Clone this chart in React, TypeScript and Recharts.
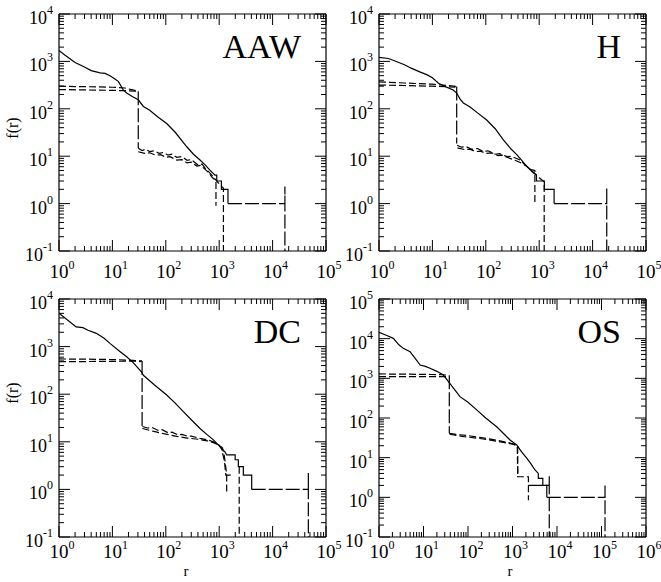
import { LineChart, Line, XAxis, YAxis } from "recharts"

type Pt = [number, number | null]

const SERIF = "'Liberation Serif', 'Times New Roman', Times, serif"

// axis exponents (log10 of the decade ticks)
const X_EXP_SHORT = [0, 1, 2, 3, 4, 5]
const X_EXP_LONG = [0, 1, 2, 3, 4, 5, 6]
const Y_EXP_SHORT = [-1, 0, 1, 2, 3, 4]
const Y_EXP_LONG = [-1, 0, 1, 2, 3, 4, 5]

// ---- AAW ----
const AAW_SOLID: Pt[] = [
  [1, 1700], [1.3, 1350], [2, 950], [3, 760], [4, 640], [5.9, 575], [7.3, 560], [9, 500], [11, 430],
  [13, 375], [16, 250], [18.5, 215], [24, 180], [30.5, 155], [38, 112], [50, 93], [70, 68], [104, 49],
  [150, 32], [245, 16], [330, 11], [437, 8.3], [550, 6.5], [670, 5.1], [835, 4], [900, 4], [900, 3],
  [1100, 3], [1100, 2], [1460, 2], [1460, 1],
]
const AAW_DASH_A: Pt[] = [
  [1, 300], [2, 295], [5, 290], [10, 285], [17, 275], [24, 250], [28, 240], [29, null], [30.5, 14.7], [36, 13.2],
  [42, 14], [50, 12.5], [60, 13], [75, 11.5], [90, 12], [110, 10.5], [130, 11], [160, 9.5], [200, 9.8],
  [250, 8.2], [300, 8.5], [400, 6.5], [480, 6.8], [550, 5.5], [700, 4.2], [800, 3.5], [1000, 2.6],
  [1200, 2.1], [1200, 0.05],
]
const AAW_DASH_B: Pt[] = [
  [1, 255], [3, 250], [10, 245], [20, 240], [30, 235], [30.2, null], [30.5, 12.4], [40, 11.5], [50, 11.8], [65, 10.5],
  [80, 10.8], [100, 9.5], [120, 9.8], [160, 8.3], [200, 8.5], [250, 7.2], [300, 7.5], [380, 6.2],
  [450, 6.4], [600, 4.8], [750, 3.5], [870, 3], [870, 0.9],
]
const AAW_LONG: Pt[] = [
  [30.5, 235], [30.5, 14.7], [31, null], [1460, 1], [17000, 1], [17000, 2.3], [17000, 0.05],
]

// ---- H ----
const H_SOLID: Pt[] = [
  [1, 1220], [1.5, 1150], [2, 1020], [3, 850], [4, 720], [5.8, 600], [8, 520], [10, 450], [13, 345],
  [18, 290], [24.5, 250], [28.5, 215], [33, 160], [38, 133], [50, 110], [70, 82], [104, 58], [150, 38],
  [213, 22], [300, 14], [380, 10.8], [480, 8], [590, 6], [700, 5], [780, 4.4], [890, 4], [890, 3],
  [1250, 3], [1250, 2], [1900, 2], [1900, 1],
]
const H_DASH_A: Pt[] = [
  [1, 370], [3, 350], [10, 330], [20, 310], [28.5, 295], [28.7, null], [29, 17], [35, 15.5], [42, 16], [55, 14],
  [70, 14.5], [90, 12.5], [110, 13], [150, 11], [180, 11.3], [250, 9.8], [300, 10], [437, 8.3],
  [550, 6.5], [700, 5.2], [830, 5], [830, 0.93],
]
const H_DASH_B: Pt[] = [
  [1, 316], [3, 310], [10, 300], [20, 290], [27, 285], [28, null], [29.5, 15], [40, 13.8], [50, 14], [65, 12.5],
  [80, 12.8], [100, 11.5], [130, 11.7], [170, 10.3], [200, 10.5], [300, 8.8], [450, 7.3], [600, 6],
  [800, 4.5], [1000, 3.5], [1240, 2.9], [1240, 0.05],
]
const H_LONG: Pt[] = [
  [28.5, 295], [28.5, 18.6], [29, null], [1900, 1], [18400, 1], [18400, 2.1], [18400, 0.05],
]

// ---- DC ----
const DC_SOLID: Pt[] = [
  [1, 5000], [1.5, 3500], [2.1, 2600], [2.8, 2500], [3.5, 2200], [5, 1900], [7, 1500], [9, 1170],
  [14, 780], [18.5, 610], [25, 450], [35, 295], [38, 250], [60, 160], [104, 96], [150, 65], [213, 43],
  [300, 29], [437, 19], [600, 14], [780, 11], [1110, 7.3], [1300, 6], [1380, 5.3], [1990, 5.3],
  [1990, 4.2], [2280, 4.2], [2280, 3], [2830, 3], [2830, 2], [4060, 2], [4060, 1],
]
const DC_DASH_A: Pt[] = [
  [1, 550], [3, 545], [10, 535], [20, 520], [30, 505], [36, 500], [36.2, null], [36.5, 21], [45, 19.5], [55, 20],
  [70, 17.5], [85, 18], [110, 15.5], [130, 16], [170, 14], [200, 14.3], [260, 13], [300, 13.2],
  [437, 11.8], [600, 11], [780, 10], [1000, 8.5], [1110, 7], [1250, 4], [1330, 2], [1650, 2],
  [1660, null], [2370, 3], [2370, 0.05],
]
const DC_DASH_B: Pt[] = [
  [1, 480], [3, 485], [10, 490], [20, 495], [30, 495], [35, 480], [36, null], [36.5, 19], [60, 16.5], [100, 14.5],
  [160, 13], [250, 12], [400, 11.3], [600, 10.5], [800, 9.5], [1000, 8.5], [1150, 7.5], [1250, 5],
  [1350, 2.5], [1380, 2], [1380, 0.85],
]
const DC_LONG: Pt[] = [
  [36, 500], [36, 21], [36.5, null], [4060, 1], [46700, 1], [46700, 2.2], [46700, 0.05],
]

// ---- OS ----
const OS_SOLID: Pt[] = [
  [1, 14500], [1.5, 12000], [2.1, 10200], [2.8, 7000], [3.5, 5700], [5, 4700], [6.5, 3200],
  [8.4, 2170], [11, 2000], [14, 1800], [20, 1500], [28, 1210], [39, 750], [50, 520], [66, 345],
  [100, 250], [157, 160], [250, 100], [441, 60], [879, 28], [1242, 21], [1600, 14], [2090, 9.7],
  [2600, 7], [3200, 4.9], [3800, 4], [3800, 3], [4800, 3], [4800, 2], [5900, 2], [5900, 1],
]
const OS_DASH_A: Pt[] = [
  [1, 1290], [5, 1270], [15, 1250], [26, 1230], [37, 1200], [37.5, null], [38, 41], [60, 38], [100, 36], [200, 32],
  [400, 28], [800, 24], [1240, 21], [1310, 20], [1310, 3.3], [2280, 3.3], [2280, 0.85],
]
const OS_DASH_B: Pt[] = [
  [1, 1100], [5, 1100], [15, 1100], [30, 1100], [37, 1100], [37.5, null], [38.5, 39], [80, 34], [200, 30],
  [500, 25.5], [1000, 22], [1280, 20], [1300, 6], [1320, 3.4],
]
const OS_LONG: Pt[] = [
  [38, 1200], [38, 41], [39, null], [2280, 2], [6700, 2], [6700, 3.4], [6700, 0.05], [6800, null],
  [5900, 1], [120000, 1], [120000, 2], [120000, 0.05],
]

const DASH = "7 3"
const LONG_DASH = "14 3"

type Series = { pts: Pt[]; dash?: string }

type PanelDef = {
  title: string
  plotX: number
  plotY: number
  plotH: number
  labelGap: number
  xExp: number[]
  yExp: number[]
  series: Series[]
}

const PLOT_W = 267

const PANELS: PanelDef[] = [
  {
    title: "AAW", plotX: 59, plotY: 14, plotH: 237, labelGap: 27, xExp: X_EXP_SHORT, yExp: Y_EXP_SHORT,
    series: [{ pts: AAW_SOLID }, { pts: AAW_DASH_A, dash: DASH }, { pts: AAW_DASH_B, dash: DASH }, { pts: AAW_LONG, dash: LONG_DASH }],
  },
  {
    title: "H", plotX: 379, plotY: 14, plotH: 237, labelGap: 27, xExp: X_EXP_SHORT, yExp: Y_EXP_SHORT,
    series: [{ pts: H_SOLID }, { pts: H_DASH_A, dash: DASH }, { pts: H_DASH_B, dash: DASH }, { pts: H_LONG, dash: LONG_DASH }],
  },
  {
    title: "DC", plotX: 59, plotY: 299, plotH: 238, labelGap: 21, xExp: X_EXP_SHORT, yExp: Y_EXP_SHORT,
    series: [{ pts: DC_SOLID }, { pts: DC_DASH_A, dash: DASH }, { pts: DC_DASH_B, dash: DASH }, { pts: DC_LONG, dash: LONG_DASH }],
  },
  {
    title: "OS", plotX: 379, plotY: 299, plotH: 238, labelGap: 21, xExp: X_EXP_LONG, yExp: Y_EXP_LONG,
    series: [{ pts: OS_SOLID }, { pts: OS_DASH_A, dash: DASH }, { pts: OS_DASH_B, dash: DASH }, { pts: OS_LONG, dash: LONG_DASH }],
  },
]

function decadeTicks(exps: number[]) {
  const out: number[] = []
  exps.forEach((e, i) => {
    out.push(Math.pow(10, e))
    if (i < exps.length - 1) for (let k = 2; k <= 9; k++) out.push(k * Math.pow(10, e))
  })
  return out
}

function expOf(v: number) {
  return Math.round(Math.log10(v))
}

function isMajor(v: number) {
  const l = Math.log10(v)
  return Math.abs(l - Math.round(l)) < 1e-6
}

const MAJOR = 11
const MINOR = 5

function BottomTick(props: any) {
  const { x, y, payload, gap } = props
  const major = isMajor(payload.value)
  return (
    <g>
      <line x1={x} y1={y} x2={x} y2={y - (major ? MAJOR : MINOR)} stroke="#000" strokeWidth={1} />
      {major && (
        <text x={x - 9.5} y={y + gap} style={{ fontFamily: SERIF }} fontSize={19} fill="#000">
          10<tspan dy={-9} fontSize={12}>{expOf(payload.value)}</tspan>
        </text>
      )}
    </g>
  )
}

function TopTick(props: any) {
  const { x, y, payload } = props
  const major = isMajor(payload.value)
  return <line x1={x} y1={y} x2={x} y2={y + (major ? MAJOR : MINOR)} stroke="#000" strokeWidth={1} />
}

function LeftTick(props: any) {
  const { x, y, payload } = props
  const major = isMajor(payload.value)
  return (
    <g>
      <line x1={x} y1={y} x2={x + (major ? MAJOR : MINOR)} y2={y} stroke="#000" strokeWidth={1} />
      {major && (
        <text x={x - 6} y={y + 10} textAnchor="end" style={{ fontFamily: SERIF }} fontSize={18} fill="#000">
          10<tspan dy={-10} fontSize={12}>{expOf(payload.value)}</tspan>
        </text>
      )}
    </g>
  )
}

function RightTick(props: any) {
  const { x, y, payload } = props
  const major = isMajor(payload.value)
  return <line x1={x} y1={y} x2={x - (major ? MAJOR : MINOR)} y2={y} stroke="#000" strokeWidth={1} />
}

function Panel({ p }: { p: PanelDef }) {
  const chartLeft = p.plotX - 59
  const chartTop = p.plotY - 14
  const width = 345
  const height = p.plotH + 14 + 45
  const xDomain = [Math.pow(10, p.xExp[0]), Math.pow(10, p.xExp[p.xExp.length - 1])]
  const yDomain = [Math.pow(10, p.yExp[0]), Math.pow(10, p.yExp[p.yExp.length - 1])]
  const xTicks = decadeTicks(p.xExp)
  const yTicks = decadeTicks(p.yExp)
  const axisLine = { stroke: "#000", strokeWidth: 1.2 }
  return (
    <div style={{ position: "absolute", left: chartLeft, top: chartTop }}>
      <LineChart width={width} height={height} margin={{ top: 13, left: 9, right: width - 59 - PLOT_W - 1, bottom: 15 }}>
        <XAxis xAxisId="b" type="number" scale="log" dataKey="r" domain={xDomain} allowDataOverflow ticks={xTicks}
          interval={0} tickLine={false} tickSize={0} tickMargin={0} height={30} axisLine={axisLine}
          tick={(t: any) => <BottomTick {...t} gap={p.labelGap} />} />
        <XAxis xAxisId="t" orientation="top" type="number" scale="log" dataKey="r" domain={xDomain} allowDataOverflow ticks={xTicks}
          interval={0} tickLine={false} tickSize={0} tickMargin={0} height={1} axisLine={axisLine} tick={(t: any) => <TopTick {...t} />} />
        <YAxis yAxisId="l" type="number" scale="log" dataKey="f" domain={yDomain} allowDataOverflow ticks={yTicks}
          interval={0} tickLine={false} tickSize={0} tickMargin={0} width={50} axisLine={axisLine} tick={(t: any) => <LeftTick {...t} />} />
        <YAxis yAxisId="r" orientation="right" type="number" scale="log" dataKey="f" domain={yDomain} allowDataOverflow ticks={yTicks}
          interval={0} tickLine={false} tickSize={0} tickMargin={0} width={1} axisLine={axisLine} tick={(t: any) => <RightTick {...t} />} />
        {p.series.map((s, i) => (
          <Line
            key={i}
            xAxisId="b"
            yAxisId="l"
            data={s.pts.map(([r, f]) => ({ r, f }))}
            dataKey="f"
            type="linear"
            stroke="#000"
            strokeWidth={1.2}
            strokeDasharray={s.dash}
            dot={false}
            activeDot={false}
            connectNulls={false}
            isAnimationActive={false}
          />
        ))}
      </LineChart>
    </div>
  )
}

export default function App() {
  return (
    <div style={{ position: "absolute", left: 0, top: 0, width: 661, height: 582, overflow: "hidden", background: "#fff" }}>
      {PANELS.map((p) => (
        <Panel key={p.title} p={p} />
      ))}
      <svg width={661} height={582} style={{ position: "absolute", left: 0, top: 0, pointerEvents: "none", fontFamily: SERIF }}>
        {PANELS.map((p) => (
          <text key={p.title} x={p.plotX + PLOT_W - 25} y={p.plotY + 44} textAnchor="end" fontSize={34} fill="#000">
            {p.title}
          </text>
        ))}
        <text transform="translate(18,128) rotate(-90)" textAnchor="middle" fontSize={16} fill="#000">f(r)</text>
        <text transform="translate(18,393) rotate(-90)" textAnchor="middle" fontSize={16} fill="#000">f(r)</text>
        <text x={186} y={576} textAnchor="middle" fontSize={15} fill="#000">r</text>
        <text x={510} y={576} textAnchor="middle" fontSize={15} fill="#000">r</text>
      </svg>
    </div>
  )
}
